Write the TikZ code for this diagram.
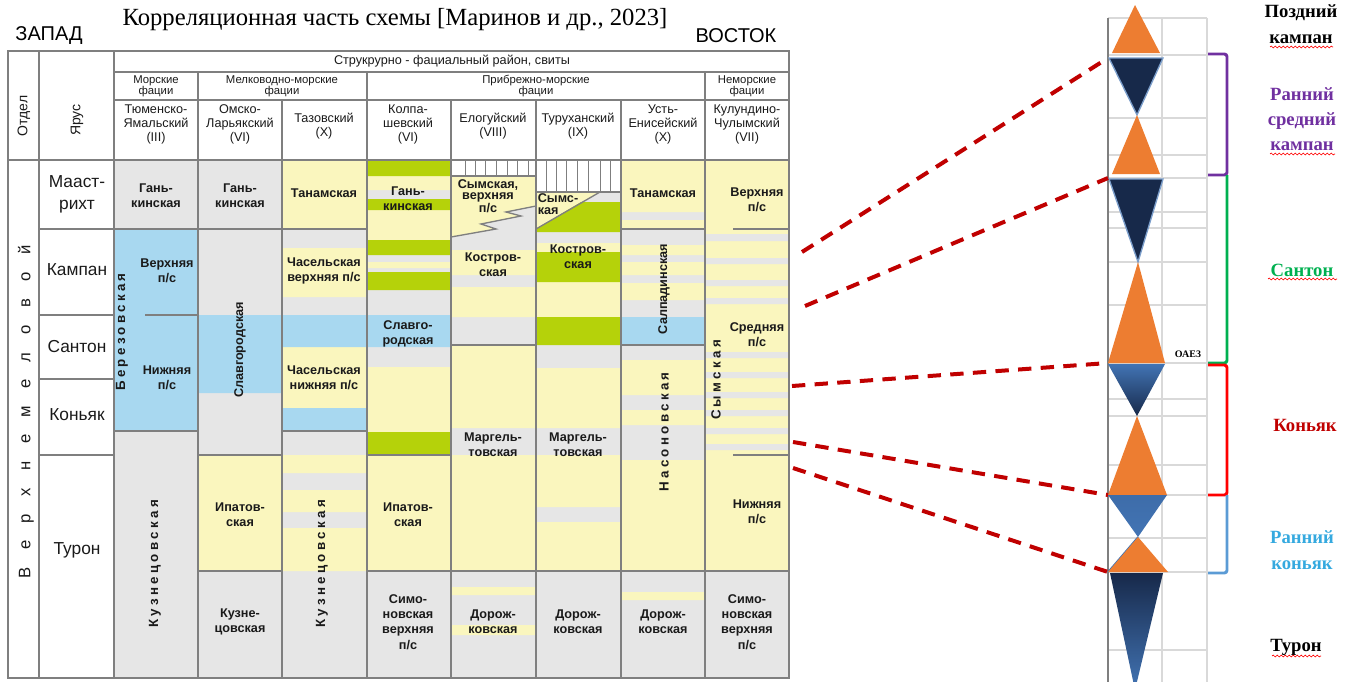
\documentclass[tikz,border=0pt]{standalone}
\usepackage{fontspec}
\setmainfont{Liberation Serif}
\setsansfont{Liberation Sans}
\usetikzlibrary{decorations.pathmorphing}

\definecolor{cgrey}{HTML}{E6E6E6}
\definecolor{cyel}{HTML}{FAF6BE}
\definecolor{cgreen}{HTML}{B5D20A}
\definecolor{cblue}{HTML}{A8D8F0}
\definecolor{lgrey}{HTML}{7F7F7F}
\definecolor{gridc}{HTML}{D9D9D9}
\definecolor{dred}{HTML}{C00000}
\definecolor{orng}{HTML}{ED7D31}
\definecolor{navy}{HTML}{17294A}
\definecolor{mblue}{HTML}{4274B4}
\definecolor{vpurple}{HTML}{7030A0}
\definecolor{vgreen}{HTML}{00B050}
\definecolor{vred}{HTML}{FF0000}
\definecolor{sblue}{HTML}{5B9BD5}
\definecolor{lblue}{HTML}{35A9DF}
\definecolor{txt}{HTML}{1A1A1A}

\tikzset{every picture/.style={line width=0.75pt}}
\tikzset{
  tline/.style={draw=lgrey, line width=1pt},
  gridl/.style={draw=gridc, line width=1pt},
  hdr/.style={inner sep=0.75pt, align=center, text=txt, font=\sffamily\fontsize{9.5}{10.5}\selectfont},
  facies/.style={inner sep=0.75pt, align=center, text=txt, font=\sffamily\fontsize{8.5}{8.5}\selectfont},
  svita/.style={inner sep=0.75pt, align=center, text=txt, font=\sffamily\bfseries\fontsize{9.5}{11.5}\selectfont},
  svitav/.style={svita, rotate=90},
  spaced/.style={inner sep=0.75pt, rotate=90, text=txt, font=\sffamily\bfseries\fontsize{10}{11}\selectfont\addfontfeatures{LetterSpace=25}},
  yarus/.style={inner sep=0.75pt, align=center, text=txt, font=\sffamily\fontsize{13}{16.5}\selectfont},
  stage/.style={inner sep=0.75pt, align=center, font=\bfseries\fontsize{14}{19}\selectfont},
  corr/.style={draw=dred, line width=3pt, dash pattern=on 10pt off 7pt},
  bracket/.style={line width=2.2pt, rounded corners=2pt},
  squiggle/.style={draw=vred, line width=0.5pt, decorate, decoration={snake, amplitude=0.7pt, segment length=3pt}}
}

\begin{document}
\begin{tikzpicture}[x=0.75pt,y=0.75pt,yscale=-1,xscale=1]
\useasboundingbox (0,0) rectangle (1357,682);

% Text Node
\draw (395,20) node [inner sep=0.75pt, font=\fontsize{18.5}{21}\selectfont] (title) {Корреляционная часть схемы [Маринов и др., 2023]};
% Text Node
\draw (49,36) node [inner sep=0.75pt, font=\sffamily\fontsize{15}{18}\selectfont] (zapad) {ЗАПАД};
% Text Node
\draw (736,36) node [inner sep=0.75pt, font=\sffamily\fontsize{15}{18}\selectfont] (vostok) {ВОСТОК};

%Shape: Rectangle -- body of the scheme
\fill[cgrey] (114,160) rectangle (789,678);
%Shape: yellow layers
\fill[cyel] (198,455) rectangle (282,571)
  (282,160) rectangle (367,229) (282,248) rectangle (367,297) (282,347) rectangle (367,408)
  (282,455) rectangle (367,473) (282,490) rectangle (367,512) (282,528) rectangle (367,571)
  (367,176) rectangle (451,190) (367,210) rectangle (451,240) (367,262) rectangle (451,268)
  (367,367) rectangle (451,432) (367,455) rectangle (451,571)
  (451,250) rectangle (536,275) (451,287) rectangle (536,317) (451,345) rectangle (536,428)
  (451,455) rectangle (536,571) (451,587) rectangle (536,595) (451,625) rectangle (536,635)
  (536,243) rectangle (621,252) (536,282) rectangle (621,317) (536,368) rectangle (621,428)
  (536,455) rectangle (621,507) (536,522) rectangle (621,571)
  (621,160) rectangle (705,212) (621,220) rectangle (705,229) (621,245) rectangle (705,255)
  (621,262) rectangle (705,275) (621,283) rectangle (705,300) (621,360) rectangle (705,395)
  (621,410) rectangle (705,425) (621,460) rectangle (705,571) (621,592) rectangle (705,600)
  (705,160) rectangle (789,571);
\fill[cyel] (451,176) -- (536,176) -- (536,206) -- (506,212) -- (521,216) -- (481,224) -- (496,229) -- (451,237) -- cycle;
\fill[cyel] (536,192) -- (600,192) -- (536,229) -- cycle;
%Shape: grey stripes in the Sym column
\fill[cgrey] (705,234) rectangle (789,241) (705,258) rectangle (789,264) (705,280) rectangle (789,286)
  (705,298) rectangle (789,304) (705,352) rectangle (789,358) (705,372) rectangle (789,378)
  (705,392) rectangle (789,398) (705,410) rectangle (789,416) (705,428) rectangle (789,434)
  (705,444) rectangle (789,450);
%Shape: blue layers
\fill[cblue] (114,229) rectangle (198,431) (198,315) rectangle (282,393) (282,315) rectangle (367,347)
  (282,408) rectangle (367,431) (367,315) rectangle (451,347) (621,317) rectangle (705,345);
%Shape: green layers
\fill[cgreen] (367,160) rectangle (451,176) (367,199) rectangle (451,210) (367,240) rectangle (451,255)
  (367,272) rectangle (451,290) (367,432) rectangle (451,455) (536,252) rectangle (621,282)
  (536,317) rectangle (621,345);
\fill[cgreen] (536,229) -- (581,202) -- (621,202) -- (621,232) -- (536,232) -- cycle;
%Shape: hatched gap
\fill[white] (451,160) rectangle (536,176) (536,160) rectangle (621,192);
\draw[tline, line width=0.75pt] (465,160) -- (465,176) (475,160) -- (475,176) (485,160) -- (485,176)
  (496,160) -- (496,176) (507,160) -- (507,176) (517,160) -- (517,176) (528,160) -- (528,176)
  (546,160) -- (546,192) (556,160) -- (556,192) (566,160) -- (566,192) (577,160) -- (577,192)
  (588,160) -- (588,192) (600,160) -- (600,192) (610,160) -- (610,192);
\draw[tline] (451,176) -- (536,176) (536,192) -- (621,192);
%Straight Lines -- zigzag and wedge
\draw[tline] (451,237) -- (496,229) -- (481,224) -- (521,216) -- (506,212) -- (536,206);
\draw[tline] (536,229) -- (600,192);

%Straight Lines -- table grid
\draw[tline] (8,51) rectangle (789,678);
\draw[tline] (39,51) -- (39,678) (114,51) -- (114,678) (198,72) -- (198,678) (282,100) -- (282,678)
  (367,72) -- (367,678) (451,100) -- (451,678) (536,100) -- (536,678) (621,100) -- (621,678)
  (705,72) -- (705,678);
\draw[tline] (114,72) -- (789,72) (114,100) -- (789,100) (8,160) -- (789,160);
\draw[tline] (39,229) -- (367,229) (39,315) -- (114,315) (145,315) -- (198,315) (39,379) -- (114,379)
  (39,455) -- (114,455) (114,431) -- (198,431) (282,431) -- (367,431) (198,455) -- (282,455)
  (367,455) -- (451,455) (733,455) -- (789,455) (621,229) -- (705,229) (733,229) -- (789,229)
  (451,345) -- (536,345) (621,345) -- (705,345) (198,571) -- (282,571) (367,571) -- (789,571);

% Text Node -- header
\draw (24,116) node [hdr, rotate=90, font=\sffamily\fontsize{10.5}{12}\selectfont] (otdel) {Отдел};
\draw (77,120) node [hdr, rotate=90, font=\sffamily\fontsize{10.5}{12}\selectfont] (yarush) {Ярус};
\draw (452,61) node [hdr] (rayon) {Струкрурно - фациальный район, свиты};
\draw (156,86) node [facies] (fmor) {Морские\\фации};
\draw (282,86) node [facies] (fmel) {Мелководно-морские\\фации};
\draw (536,86) node [facies] (fpri) {Прибрежно-морские\\фации};
\draw (747,86) node [facies] (fnem) {Неморские\\фации};
\draw (156,124) node [hdr] (rtum) {Тюменско-\\Ямальский\\(III)};
\draw (240,124) node [hdr] (roms) {Омско-\\Ларьякский\\(VI)};
\draw (324,126) node [hdr] (rtaz) {Тазовский\\(X)};
\draw (408,124) node [hdr] (rkol) {Колпа-\\шевский\\(VI)};
\draw (493,126) node [hdr] (relo) {Елогуйский\\(VIII)};
\draw (578,126) node [hdr] (rtur) {Туруханский\\(IX)};
\draw (663,124) node [hdr] (rust) {Усть-\\Енисейский\\(X)};
\draw (747,124) node [hdr] (rkul) {Кулундино-\\Чулымский\\(VII)};

% Text Node -- stages
\draw (26,412) node [rotate=90, inner sep=0.75pt, text=txt, font=\sffamily\fontsize{12.5}{14}\selectfont\addfontfeatures{LetterSpace=105}] (verh) {Верхнемеловой};
\draw (77,194) node [yarus] (maas) {Мааст-\\рихт};
\draw (77,270) node [yarus] (kamp) {Кампан};
\draw (77,347) node [yarus] (sant) {Сантон};
\draw (77,415) node [yarus] (kon) {Коньяк};
\draw (77,550) node [yarus] (tur) {Турон};

% Text Node -- formations
\draw (156,196) node [svita] (gan1) {Гань-\\кинская};
\draw (122,332) node [spaced] (berez) {Березовская};
\draw (167,271) node [svita] (berv) {Верхняя\\п/с};
\draw (167,378) node [svita] (bern) {Нижняя\\п/с};
\draw (155,564) node [spaced] (kuz1) {Кузнецовская};
\draw (240,196) node [svita] (gan2) {Гань-\\кинская};
\draw (240,350) node [svitav] (slav1) {Славгородская};
\draw (240,515) node [svita] (ipat1) {Ипатов-\\ская};
\draw (240,622) node [svita] (kuz2) {Кузне-\\цовская};
\draw (324,193) node [svita] (tan1) {Танамская};
\draw (324,271) node [svita] (chasv) {Часельская\\верхняя п/с};
\draw (324,378) node [svita] (chasn) {Часельская\\нижняя п/с};
\draw (322,564) node [spaced] (kuz3) {Кузнецовская};
\draw (408,199) node [svita] (gan3) {Гань-\\кинская};
\draw (408,334) node [svita] (slav2) {Славго-\\родская};
\draw (408,515) node [svita] (ipat2) {Ипатов-\\ская};
\draw (408,622) node [svita] (simo1) {Симо-\\новская\\верхняя\\п/с};
\draw (488,196) node [svita, font=\sffamily\bfseries\fontsize{9.5}{8.5}\selectfont] (symv) {Сымская,\\верхняя\\п/с};
\draw (493,265) node [svita] (kos1) {Костров-\\ская};
\draw (493,445) node [svita] (marg1) {Маргель-\\товская};
\draw (493,622) node [svita] (dor1) {Дорож-\\ковская};
\draw (558,204) node [svita, align=left, font=\sffamily\bfseries\fontsize{9.5}{8.5}\selectfont] (sym2) {Сымс-\\кая};
\draw (578,257) node [svita] (kos2) {Костров-\\ская};
\draw (578,445) node [svita] (marg2) {Маргель-\\товская};
\draw (578,622) node [svita] (dor2) {Дорож-\\ковская};
\draw (663,193) node [svita] (tan2) {Танамская};
\draw (664,289) node [svitav] (salp) {Салпадинская};
\draw (664,432) node [spaced] (nas) {Насоновская};
\draw (663,622) node [svita] (dor3) {Дорож-\\ковская};
\draw (757,200) node [svita] (kulv) {Верхняя\\п/с};
\draw (757,335) node [svita] (kuls) {Средняя\\п/с};
\draw (716,380) node [spaced] (sym3) {Сымская};
\draw (757,512) node [svita] (kuln) {Нижняя\\п/с};
\draw (747,622) node [svita] (simo2) {Симо-\\новская\\верхняя\\п/с};

%Straight Lines -- curve grid
\draw[gridl] (1162,18) -- (1162,682) (1207,18) -- (1207,682);
\draw[gridl] (1108,18) -- (1207,18) (1108,55) -- (1207,55) (1108,118) -- (1207,118) (1108,155) -- (1207,155)
  (1108,178) -- (1207,178) (1108,212) -- (1207,212) (1108,228) -- (1207,228) (1108,262) -- (1207,262)
  (1108,305) -- (1207,305) (1108,363) -- (1207,363) (1108,399) -- (1207,399) (1108,416) -- (1207,416)
  (1108,465) -- (1207,465) (1108,495) -- (1207,495) (1108,538) -- (1207,538) (1108,572) -- (1207,572)
  (1108,650) -- (1207,650);
\draw[draw=lgrey, line width=1pt] (1108,18) -- (1108,682);

%Shape: Triangles
\fill[orng] (1135,5) -- (1160,53) -- (1112,53) -- cycle;
\fill[navy, draw=mblue!70, line width=1pt] (1109,58) -- (1163,58) -- (1137,115) -- cycle;
\fill[orng] (1137,115) -- (1160,174) -- (1112,174) -- cycle;
\fill[navy, draw=mblue!70, line width=1pt] (1109,179) -- (1163,179) -- (1138,262) -- cycle;
\fill[orng] (1138,262) -- (1165,363) -- (1108,363) -- cycle;
\shade[top color=mblue, bottom color=navy] (1108,364) -- (1165,364) -- (1137,416) -- cycle;
\fill[orng] (1137,416) -- (1167,495) -- (1108,495) -- cycle;
\shade[top color=mblue!90!navy, bottom color=mblue] (1108,495) -- (1167,495) -- (1138,537) -- cycle;
\draw[mblue, line width=1.2pt] (1108,572) -- (1138,537);
\fill[orng] (1138,537) -- (1168,572) -- (1108,572) -- cycle;
\shade[top color=navy, bottom color=mblue] (1110,573) -- (1163,573) -- (1135,690) -- cycle;

% Text Node
\draw (1188,354) node [inner sep=0.75pt, font=\bfseries\fontsize{7.5}{8}\selectfont] (oae) {ОАЕ3};

%Shape: Brackets
\draw[bracket, vpurple] (1208,54) -- (1227,54) -- (1227,175) -- (1208,175);
\draw[bracket, vgreen] (1227,175) -- (1227,363) -- (1208,363);
\draw[bracket, vred] (1208,365) -- (1227,365) -- (1227,495) -- (1208,495);
\draw[bracket, sblue] (1227,495) -- (1227,573) -- (1208,573);

% Text Node -- stage labels
\draw (1301,24) node [stage] (pozd) {Поздний\\кампан};
\draw (1302,119) node [stage, text=vpurple] (rsk) {Ранний\\средний\\кампан};
\draw (1302,270) node [stage, text=vgreen] (santr) {Сантон};
\draw (1305,425) node [stage, text=dred] (konr) {Коньяк};
\draw (1302,550) node [stage, text=lblue] (rkon) {Ранний\\коньяк};
\draw (1296,647) node [stage] (turr) {Турон};

%Curve Lines -- spelling marks
\draw[squiggle] (1270,47) -- (1333,47);
\draw[squiggle] (1270,154) -- (1335,154);
\draw[squiggle] (1268,279) -- (1337,279);
\draw[squiggle] (1272,656) -- (1321,656);

% Correlation lines
\coordinate (l1) at (802,252);
\coordinate (r1) at (1108,58);
\coordinate (l2) at (805,306);
\coordinate (r2) at (1108,178);
\coordinate (l3) at (792,386);
\coordinate (r3) at (1108,363);
\coordinate (l4) at (793,442);
\coordinate (r4) at (1108,495);
\coordinate (l5) at (793,468);
\coordinate (r5) at (1108,572);
\draw[corr] (l1) -- (r1);
\draw[corr] (l2) -- (r2);
\draw[corr] (l3) -- (r3);
\draw[corr] (l4) -- (r4);
\draw[corr] (l5) -- (r5);

\end{tikzpicture}
\end{document}
